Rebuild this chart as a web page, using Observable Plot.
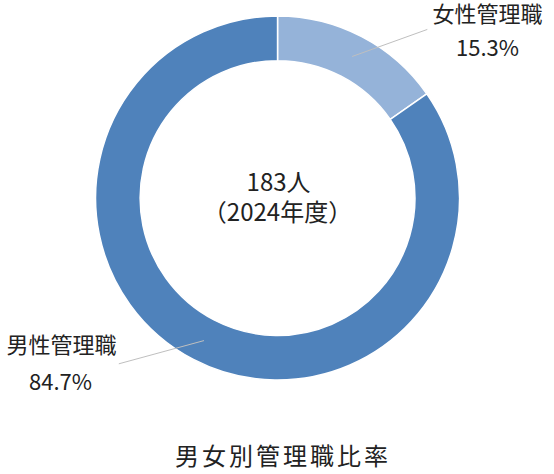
<!DOCTYPE html>
<html><head><meta charset="utf-8">
<script src="https://cdn.jsdelivr.net/npm/d3@7"></script>
<script src="https://cdn.jsdelivr.net/npm/@observablehq/plot@0.6"></script>
<style>
html,body{margin:0;padding:0;background:#fff;}
svg{font-family:"Noto Sans CJK JP","Noto Sans",sans-serif;}
</style></head>
<body><div id="chart"></div>
<script>
const categories = ["女性管理職", "男性管理職"];
const values = [15.3, 84.7];
const percentLabels = ["15.3%", "84.7%"];
const colors = ["#95b3d9", "#4f82bb"];
const centerLines = ["183人", "（2024年度）"];
const title = "男女別管理職比率";

// layout (in units of the outer radius, center at 0,0)
const innerRatio = 0.755;
const labelPos = [
  {namePos: [1.151, 1.008], pctPos: [1.151, 0.824], end: [0.82, 0.929]},
  {namePos: [-1.19, -0.808], pctPos: [-1.195, -1.011], end: [-0.875, -0.908]}
];

const pie = d3.pie().sort(null).value(d => d.value);
const data = categories.map((c, i) => ({category: c, value: values[i], color: colors[i], label: percentLabels[i], ...labelPos[i]}));
const arcs = pie(data);
arcs.forEach(a => {
  const mid = (a.startAngle + a.endAngle) / 2;
  a.data.sx = Math.sin(mid) * 0.88;
  a.data.sy = Math.cos(mid) * 0.88;
});

const donut = (index, {x, y}) => {
  const R = x(1) - x(0);
  const arc = d3.arc().innerRadius(R * innerRatio).outerRadius(R);
  const g = d3.create("svg:g").attr("transform", `translate(${x(0)},${y(0)})`);
  g.selectAll("path").data(arcs).join("path")
    .attr("d", arc)
    .attr("fill", d => d.data.color)
    .attr("stroke", "#fff")
    .attr("stroke-width", 1.5);
  return g.node();
};

const rows = arcs.map(a => a.data);

const plot = Plot.plot({
  width: 554,
  height: 474,
  margin: 0,
  x: {domain: [-1.525, 1.519], axis: null},
  y: {domain: [-1.516, 1.088], axis: null},
  marks: [
    donut,
    Plot.link(rows, {x1: "sx", y1: "sy", x2: d => d.end[0], y2: d => d.end[1], stroke: "#bfbfbf", strokeWidth: 1}),
    Plot.text(rows, {x: d => d.namePos[0], y: d => d.namePos[1], text: "category", fontSize: 22, fill: "#222"}),
    Plot.text(rows, {x: d => d.pctPos[0], y: d => d.pctPos[1], text: "label", fontSize: 22, fill: "#222"}),
    Plot.text(centerLines, {x: [0.003, -0.003], y: [0.082, -0.08], text: d => d, fontSize: 24, fill: "#222"}),
    Plot.text([title], {x: 0.027, y: -1.423, text: d => d, fontSize: 24, fill: "#222"})
  ]
});
d3.select(plot).selectAll("text").filter(function() { return this.textContent === title; })
  .attr("letter-spacing", 3);
document.getElementById("chart").appendChild(plot);
</script>
</body></html>
